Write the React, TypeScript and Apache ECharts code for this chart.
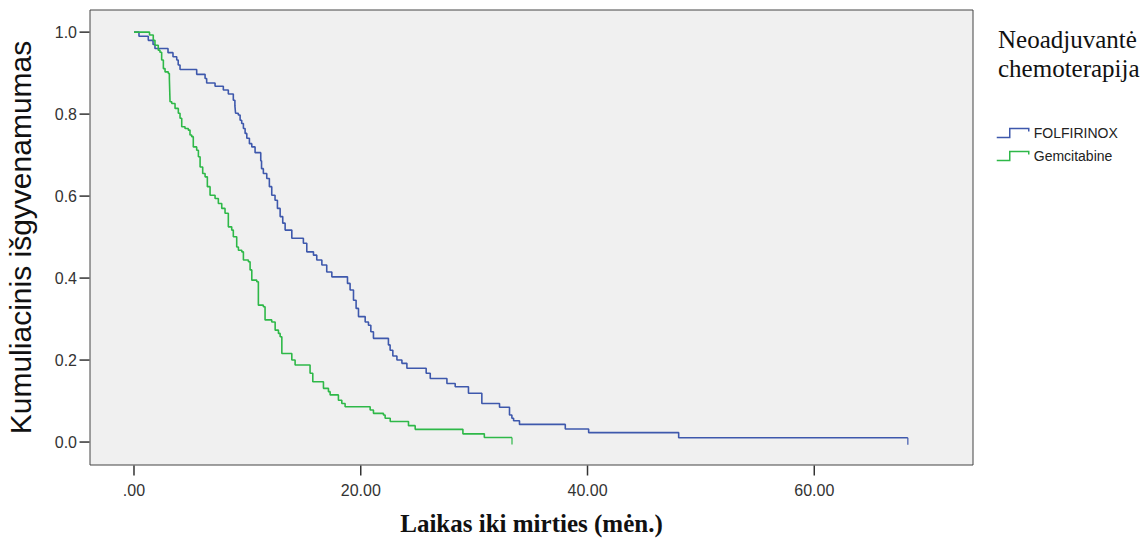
import React, { useEffect, useRef } from "react";
import * as echarts from "echarts";

const folfirinoxTime = [0, 0.44, 1.26, 1.68, 1.85, 3.0, 3.44, 3.77, 3.9, 4.06, 5.53, 6.27, 6.41, 7.15, 7.88, 8.32, 8.76, 8.9, 8.96, 9.2, 9.36, 9.5, 9.65, 9.8, 9.95, 10.18, 10.39, 10.68, 11.18, 11.25, 11.41, 11.71, 11.94, 12.15, 12.44, 12.65, 12.89, 13.12, 13.33, 13.92, 14.94, 15.24, 15.83, 16.12, 16.57, 17.0, 17.45, 18.83, 19.06, 19.36, 19.59, 19.8, 20.39, 20.68, 20.89, 21.12, 22.44, 22.59, 22.83, 23.19, 23.63, 24.07, 25.77, 26.13, 27.6, 28.33, 29.5, 30.68, 32.24, 33.12, 33.33, 33.48, 34.0, 38.04, 40.1, 48.04, 68.25];
const folfirinoxSurv = [1.0, 0.99, 0.98, 0.97, 0.96, 0.95, 0.94, 0.932, 0.92, 0.909, 0.897, 0.887, 0.876, 0.868, 0.859, 0.849, 0.834, 0.82, 0.802, 0.798, 0.785, 0.777, 0.765, 0.753, 0.741, 0.728, 0.72, 0.706, 0.686, 0.667, 0.655, 0.643, 0.623, 0.602, 0.59, 0.57, 0.55, 0.534, 0.517, 0.497, 0.485, 0.464, 0.456, 0.444, 0.432, 0.415, 0.403, 0.387, 0.371, 0.346, 0.326, 0.306, 0.293, 0.285, 0.269, 0.253, 0.237, 0.224, 0.21, 0.2, 0.192, 0.18, 0.168, 0.155, 0.143, 0.135, 0.119, 0.094, 0.085, 0.066, 0.058, 0.052, 0.043, 0.032, 0.023, 0.0105, 0.0105];

const gemTime = [0, 1.37, 1.70, 1.85, 2.14, 2.29, 2.44, 2.59, 2.74, 3.03, 3.12, 3.18, 3.33, 3.62, 3.91, 4.06, 4.21, 4.50, 4.79, 4.94, 5.09, 5.23, 5.53, 5.68, 5.83, 6.06, 6.27, 6.47, 6.71, 7.15, 7.44, 7.74, 8.03, 8.32, 8.62, 8.76, 9.06, 9.21, 9.51, 9.65, 10.09, 10.24, 10.39, 10.83, 10.97, 11.41, 11.56, 12.15, 12.45, 12.74, 12.89, 13.04, 13.92, 14.21, 15.53, 15.77, 16.71, 17.15, 17.3, 18.03, 18.33, 18.62, 20.83, 21.12, 22.0, 22.15, 22.6, 24.21, 24.8, 29.01, 30.9, 33.34];
const gemSurv = [1.0, 0.993, 0.98, 0.968, 0.956, 0.951, 0.932, 0.911, 0.903, 0.899, 0.887, 0.83, 0.826, 0.814, 0.802, 0.79, 0.769, 0.765, 0.761, 0.749, 0.745, 0.72, 0.712, 0.696, 0.671, 0.655, 0.647, 0.623, 0.602, 0.594, 0.582, 0.57, 0.558, 0.525, 0.517, 0.501, 0.476, 0.468, 0.464, 0.444, 0.44, 0.42, 0.395, 0.391, 0.334, 0.33, 0.298, 0.293, 0.273, 0.265, 0.257, 0.216, 0.2, 0.188, 0.168, 0.147, 0.131, 0.123, 0.115, 0.102, 0.094, 0.086, 0.078, 0.07, 0.066, 0.058, 0.05, 0.04, 0.031, 0.02, 0.011, 0.011];

const xTickValues = [0, 20, 40, 60];
const yTickValues = [0, 0.2, 0.4, 0.6, 0.8, 1.0];
const seriesNames = ["FOLFIRINOX", "Gemcitabine"];
const legendTitle = "Neoadjuvantė\nchemoterapija";
const xTitle = "Laikas iki mirties (mėn.)";
const yTitle = "Kumuliacinis išgyvenamumas";

const BLUE = "#3E58AC";
const GREEN = "#2EB848";
const TICK = "#333";
const legendIcon = "path://M0,9 L13,9 L13,0 L32,0 L32,3";

// plot frame (layout)
const W = 1142;
const H = 539;
const G_LEFT = 90;
const G_RIGHT = 169;
const G_TOP = 10;
const G_BOTTOM = 74;
const TICK_LEN = 10;
const X_MIN = -3.88;
const X_MAX = 74;
const Y_MIN = -0.056;
const Y_MAX = 1.054;

function zip(a: number[], b: number[]) {
  return a.map((t, i) => [t, b[i]]);
}

export default function App() {
  const ref = useRef<HTMLDivElement>(null);
  useEffect(() => {
    if (!ref.current) return;
    const chart = echarts.init(ref.current, null, { renderer: "svg" });
    const fData = zip(folfirinoxTime, folfirinoxSurv);
    const gData = zip(gemTime, gemSurv);

    const plotW = W - G_LEFT - G_RIGHT;
    const plotH = H - G_TOP - G_BOTTOM;
    const xPx = (v: number) => G_LEFT + ((v - X_MIN) / (X_MAX - X_MIN)) * plotW;
    const yPx = (v: number) => G_TOP + ((Y_MAX - v) / (Y_MAX - Y_MIN)) * plotH;
    const frameBottom = H - G_BOTTOM;
    const xT0 = xTickValues[0];
    const xT1 = xTickValues[xTickValues.length - 1];
    const yT0 = yTickValues[0];
    const yT1 = yTickValues[yTickValues.length - 1];

    chart.setOption({
      animation: false,
      backgroundColor: "#ffffff",
      title: {
        text: legendTitle,
        left: 993,
        top: 20,
        textStyle: {
          fontFamily: "Liberation Serif",
          fontSize: 25,
          fontWeight: "normal",
          lineHeight: 29,
          color: "#111",
        },
      },
      legend: {
        orient: "vertical",
        left: 991,
        top: 121,
        itemWidth: 32,
        itemHeight: 9,
        itemGap: 9,
        textStyle: { fontFamily: "Liberation Sans", fontSize: 14, color: "#222" },
        data: [
          { name: seriesNames[0], icon: legendIcon, itemStyle: { color: "transparent", borderColor: BLUE, borderWidth: 1.5 } },
          { name: seriesNames[1], icon: legendIcon, itemStyle: { color: "transparent", borderColor: GREEN, borderWidth: 1.5 } },
        ],
      },
      grid: [
        {
          left: G_LEFT,
          right: G_RIGHT,
          top: G_TOP,
          bottom: G_BOTTOM,
          outerBoundsMode: "none",
          show: true,
          backgroundColor: "#F0F0F0",
          borderColor: "#444",
          borderWidth: 1,
        },
        {
          left: xPx(xT0),
          right: W - xPx(xT1),
          top: frameBottom,
          bottom: H - frameBottom - TICK_LEN,
          outerBoundsMode: "none",
        },
        {
          left: G_LEFT - TICK_LEN,
          right: W - G_LEFT,
          top: yPx(yT1),
          bottom: H - yPx(yT0),
          outerBoundsMode: "none",
        },
      ],
      xAxis: [
        {
          gridIndex: 0,
          type: "value",
          min: X_MIN,
          max: X_MAX,
          name: xTitle,
          nameLocation: "middle",
          nameGap: 46,
          nameTextStyle: { fontFamily: "Liberation Serif", fontWeight: "bold", fontSize: 25, color: "#111" },
          axisLine: { show: false },
          axisTick: { show: false },
          axisLabel: { show: false },
          splitLine: { show: false },
        },
        {
          gridIndex: 1,
          type: "value",
          min: xT0,
          max: xT1,
          interval: 20,
          axisLine: { show: false },
          axisTick: { show: false },
          splitLine: { show: false },
          axisLabel: {
            margin: 7,
            fontFamily: "Liberation Sans Narrow, Liberation Sans",
            fontSize: 16,
            color: "#333",
            formatter: (v: number) => (v === 0 ? ".00" : v.toFixed(2)),
          },
        },
        { gridIndex: 2, type: "value", min: 0, max: 1, show: false },
      ],
      yAxis: [
        {
          gridIndex: 0,
          type: "value",
          min: Y_MIN,
          max: Y_MAX,
          name: yTitle,
          nameLocation: "middle",
          nameGap: 55,
          nameTextStyle: { fontFamily: "Liberation Sans", fontSize: 30, color: "#111" },
          axisLine: { show: false },
          axisTick: { show: false },
          axisLabel: { show: false },
          splitLine: { show: false },
        },
        { gridIndex: 1, type: "value", min: 0, max: 1, show: false },
        {
          gridIndex: 2,
          type: "value",
          min: yT0,
          max: yT1,
          interval: 0.2,
          axisLine: { show: false },
          axisTick: { show: false },
          splitLine: { show: false },
          axisLabel: {
            margin: 3,
            fontFamily: "Liberation Sans",
            fontSize: 16,
            color: "#333",
            formatter: (v: number) => v.toFixed(1),
          },
        },
      ],
      series: [
        {
          name: seriesNames[0],
          type: "line",
          step: "end",
          showSymbol: false,
          symbol: "none",
          data: fData,
          lineStyle: { color: BLUE, width: 1.6 },
          itemStyle: { color: BLUE },
        },
        {
          name: seriesNames[1],
          type: "line",
          step: "end",
          showSymbol: false,
          symbol: "none",
          data: gData,
          lineStyle: { color: GREEN, width: 1.6 },
          itemStyle: { color: GREEN },
        },
        {
          name: "FOLFIRINOX censored",
          type: "scatter",
          symbol: "rect",
          symbolSize: [1.5, 7],
          symbolOffset: [0, 3.5],
          data: [fData[fData.length - 1]],
          itemStyle: { color: BLUE },
          silent: true,
        },
        {
          name: "Gemcitabine censored",
          type: "scatter",
          symbol: "rect",
          symbolSize: [1.5, 7],
          symbolOffset: [0, 3.5],
          data: [gData[gData.length - 1]],
          itemStyle: { color: GREEN },
          silent: true,
        },
      ],
    });

    // tick marks placed through the main grid's own scales, drawn as filled bars
    const ticks: any[] = [];
    xTickValues.forEach((v) => {
      const p = chart.convertToPixel({ gridIndex: 0 }, [v, Y_MIN]) as number[];
      ticks.push({
        type: "rect",
        z: 100,
        silent: true,
        shape: { x: p[0] - 0.75, y: p[1] + 0.5, width: 1.5, height: TICK_LEN },
        style: { fill: TICK },
      });
    });
    yTickValues.forEach((v) => {
      const p = chart.convertToPixel({ gridIndex: 0 }, [X_MIN, v]) as number[];
      ticks.push({
        type: "rect",
        z: 100,
        silent: true,
        shape: { x: p[0] - TICK_LEN - 0.5, y: p[1] - 0.75, width: TICK_LEN, height: 1.5 },
        style: { fill: TICK },
      });
    });
    chart.setOption({ graphic: ticks });

    return () => chart.dispose();
  }, []);
  return (
    <div
      ref={ref}
      style={{ position: "fixed", left: 0, top: 0, width: W, height: H }}
    />
  );
}
